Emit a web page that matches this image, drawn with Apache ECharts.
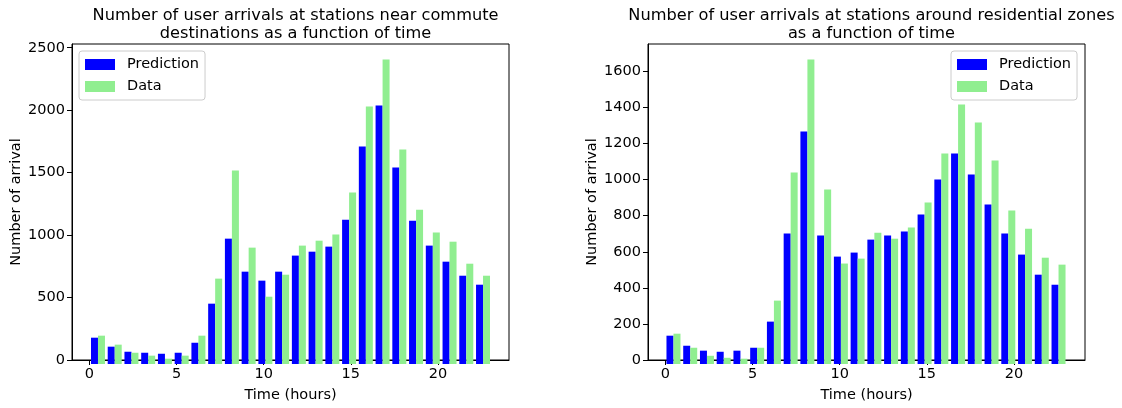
<!DOCTYPE html>
<html>
<head>
<meta charset="utf-8">
<script src="https://cdn.jsdelivr.net/npm/echarts@6/dist/echarts.min.js"></script>
<style>
  html, body { margin: 0; padding: 0; background: #fff; }
  #chart { width: 1122px; height: 408px; }
</style>
</head>
<body>
<div id="chart"></div>
<script>
// Hour of day for each pair of bars
const hours = ['0','1','2','3','4','5','6','7','8','9','10','11','12','13','14','15','16','17','18','19','20','21','22','23'];

// Arrivals at stations near commute destinations
const commutePrediction = [208,137,97,89,81,89,168,477,991,730,659,730,857,888,928,1141,1719,2043,1553,1133,936,809,698,627];
const commuteData       = [224,153,89,66,42,66,224,675,1529,920,532,706,936,975,1023,1355,2035,2407,1695,1220,1039,967,793,698];

// Arrivals at stations around residential zones
const residentialPrediction = [155,100,73,67,73,89,232,714,1273,703,588,610,681,703,725,818,1010,1152,1037,873,714,599,489,434];
const residentialData       = [166,89,45,34,29,89,347,1048,1667,955,550,577,719,686,747,884,1152,1421,1322,1114,840,741,582,544];

// Tick labels
const timeTicks = [0,5,10,15,20];
const commuteTicks = [0,500,1000,1500,2000,2500];
const residentialTicks = [0,200,400,600,800,1000,1200,1400,1600];

const FONT = 'DejaVu Sans';
const BLUE = '#0000ff';
const GREEN = '#90ee90';
const plain = v => String(v);

const chart = echarts.init(document.getElementById('chart'), null, { renderer: 'canvas' });

const plotTop = 44, plotHeight = 320;
const panels = [
  { frameLeft: 72,  barLeft: 89.6,  yMax: 2530, yTicks: commuteTicks,
    pred: commutePrediction, data: commuteData,
    title: 'Number of user arrivals at stations near commute\ndestinations as a function of time',
    legendLeft: 79 },
  { frameLeft: 648, barLeft: 665.1, yMax: 1752, yTicks: residentialTicks,
    pred: residentialPrediction, data: residentialData,
    title: 'Number of user arrivals at stations around residential zones\nas a function of time',
    legendLeft: 951 }
];
const frameWidth = 437, barWidthTotal = 401.8;

const grid = [], xAxis = [], yAxis = [], series = [], title = [], legend = [];

panels.forEach((p) => {
  const frameGrid = grid.length;
  grid.push({ left: p.frameLeft, top: plotTop, width: frameWidth, height: plotHeight,
              show: true, borderColor: '#000', borderWidth: 1, backgroundColor: 'transparent' });
  const barGrid = grid.length;
  grid.push({ left: p.barLeft, top: plotTop, width: barWidthTotal, height: plotHeight });

  // Visible time axis with ticks every 5 hours
  xAxis.push({
    type: 'value', gridIndex: frameGrid, min: -1.0, max: 24.08,
    name: 'Time (hours)', nameLocation: 'middle', nameGap: 28,
    nameTextStyle: { fontFamily: FONT, fontSize: 14.5, color: '#000' },
    axisLine: { show: true, onZero: false, lineStyle: { color: '#000', width: 1 } },
    axisTick: { show: true, length: 5, lineStyle: { color: '#000' }, customValues: timeTicks },
    axisLabel: { fontFamily: FONT, fontSize: 14.5, color: '#000', margin: 7,
                 customValues: timeTicks, formatter: plain },
    splitLine: { show: false }
  });
  // Hidden category axis carrying one band per hour
  const bx = xAxis.length;
  xAxis.push({ type: 'category', gridIndex: barGrid, data: hours, boundaryGap: true, show: false });

  yAxis.push({
    type: 'value', gridIndex: frameGrid, min: 0, max: p.yMax,
    name: 'Number of arrival', nameLocation: 'middle', nameGap: 46,
    nameTextStyle: { fontFamily: FONT, fontSize: 14.5, color: '#000' },
    axisLine: { show: true, onZero: false, lineStyle: { color: '#000', width: 1 } },
    axisTick: { show: true, length: 5, lineStyle: { color: '#000' }, customValues: p.yTicks },
    axisLabel: { fontFamily: FONT, fontSize: 14.5, color: '#000', margin: 7,
                 customValues: p.yTicks, formatter: plain },
    splitLine: { show: false }
  });
  const by = yAxis.length;
  yAxis.push({ type: 'value', gridIndex: barGrid, min: 0, max: p.yMax, show: false,
               axisLine: { onZero: false }, splitLine: { show: false } });

  series.push({
    type: 'bar', name: 'Prediction', xAxisIndex: bx, yAxisIndex: by, data: p.pred,
    barWidth: 7, barGap: '0%', itemStyle: { color: BLUE }, silent: true
  });
  series.push({
    type: 'bar', name: 'Data', xAxisIndex: bx, yAxisIndex: by, data: p.data,
    barWidth: 7, barGap: '0%', itemStyle: { color: GREEN }, silent: true
  });

  title.push({
    text: p.title, left: p.frameLeft + frameWidth / 2, top: 2, textAlign: 'center',
    textStyle: { fontFamily: FONT, fontSize: 16.2, fontWeight: 'normal', color: '#000', lineHeight: 18 }
  });

  legend.push({
    orient: 'vertical', left: p.legendLeft, top: 51,
    data: ['Prediction', 'Data'], icon: 'rect', itemWidth: 30, itemHeight: 11, itemGap: 7,
    padding: [6, 6, 6, 6], backgroundColor: 'rgba(255,255,255,0.8)',
    borderColor: '#cccccc', borderWidth: 1, borderRadius: 3,
    selectedMode: false,
    textStyle: { fontFamily: FONT, fontSize: 14.5, color: '#000', padding: [0, 0, 0, 7] }
  });
});

chart.setOption({
  animation: false,
  backgroundColor: '#fff',
  title, legend, grid, xAxis, yAxis, series
});
</script>
</body>
</html>
